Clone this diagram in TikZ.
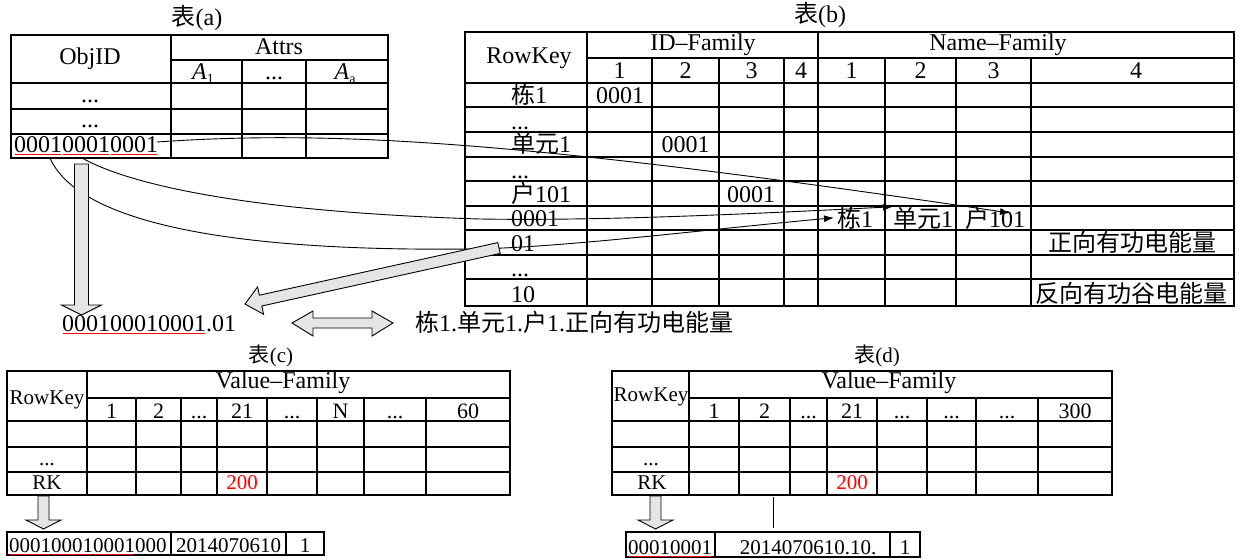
\documentclass[tikz,border=0pt]{standalone}
\usepackage{fontspec}
\setmainfont{Liberation Serif}
\newfontfamily\cjk{Noto Sans CJK SC}
\usetikzlibrary{arrows.meta}
\newcommand\redul[1]{\sbox0{#1}\rlap{\hspace{1pt}\color{red}\rule[-2.5pt]{\dimexpr\wd0-2pt\relax}{1pt}}\usebox0}
\begin{document}
\begin{tikzpicture}[x=1pt,y=-1pt,
  grid/.style={line width=1.1pt},
  T/.style={font=\fontsize{24}{28}\selectfont, inner sep=0pt, anchor=base},
  S/.style={font=\fontsize{21}{25}\selectfont, inner sep=0pt, anchor=base},
  H/.style={font=\fontsize{22}{26}\selectfont, inner sep=0pt, anchor=base},
  conn/.style={line width=0.9pt},
  tip/.style={-{Latex[length=10pt,width=7pt]}},
  garrow/.style={fill=black!10, draw=black, line width=0.9pt, line join=miter}]
\useasboundingbox (0,0) rectangle (1239,559);
\fill[white] (0,0) rectangle (1239,559);

% ---------- table (a)
\draw[grid] (11,35) rectangle (388,158);
\draw[grid] (171,35) -- (171,158);
\draw[grid] (171,60) -- (388,60);
\draw[grid] (242,60) -- (242,158);
\draw[grid] (306,60) -- (306,158);
\foreach \y in {83,109,134} \draw[grid] (11,\y) -- (388,\y);
\node[T,anchor=center] (aT) at (197,18) {{\cjk 表}(a)};
\node[T,anchor=center] (aObj) at (90,59) {ObjID};
\node[T,anchor=center] (aAttrs) at (279,47) {Attrs};
\node[T] (aA1) at (203,80) {\textit{A}\raisebox{-4pt}{\fontsize{14}{14}\selectfont 1}};
\node[T] (aDots) at (274,80) {...};
\node[T] (aAa) at (345,80) {\textit{A}\raisebox{-4pt}{\fontsize{14}{14}\selectfont a}};
\node[T] (aR1) at (90,103) {...};
\node[T] (aR2) at (90,128) {...};
\node[T,anchor=base west] (aOid) at (14,152) {\redul{0001}\redul{0001}\redul{0001}};

% ---------- table (b)
\draw[grid] (465,32) rectangle (1234,306);
\draw[grid] (587,32) -- (587,306);
\draw[grid] (818,32) -- (818,306);
\draw[grid] (587,58) -- (1234,58);
\foreach \x in {652,719,784,885,956,1031} \draw[grid] (\x,58) -- (\x,306);
\foreach \y in {83,107,132,157,181,206,230,255,279} \draw[grid] (465,\y) -- (1234,\y);
\node[T,anchor=center] (bT) at (820,15) {{\cjk 表}(b)};
\node[T,anchor=center] (bRK) at (529,58) {RowKey};
\node[T,anchor=center] (bID) at (703,45) {ID–Family};
\node[T,anchor=center] (bNF) at (998,45) {Name–Family};
\node[T] (bi1) at (619.5,79) {1};
\node[T] (bi2) at (685.5,79) {2};
\node[T] (bi3) at (751.5,79) {3};
\node[T] (bi4) at (801,79) {4};
\node[T] (bn1) at (851.5,79) {1};
\node[T] (bn2) at (920.5,79) {2};
\node[T] (bn3) at (993.5,79) {3};
\node[T] (bn4) at (1136,79) {4};
\node[T,anchor=base west] (br1) at (511,104) {{\cjk 栋}1};
\node[T,anchor=base west] (br2) at (511,129) {...};
\node[T,anchor=base west] (br3) at (511,153) {{\cjk 单元}1};
\node[T,anchor=base west] (br4) at (511,178) {...};
\node[T,anchor=base west] (br5) at (511,202) {{\cjk 户}101};
\node[T,anchor=base west] (br6) at (511,226) {0001};
\node[T,anchor=base west] (br7) at (511,251) {01};
\node[T,anchor=base west] (br8) at (511,276) {...};
\node[T,anchor=base west] (br9) at (511,302) {10};
\node[T] (bv1) at (620,104) {0001};
\node[T] (bv2) at (685.5,153) {0001};
\node[T] (bv3) at (751,202) {0001};
\node[T,anchor=base west] (n1) at (837,227) {{\cjk 栋}1};
\node[T,anchor=base west] (n2) at (893,227) {{\cjk 单元}1};
\node[T,anchor=base west] (n3) at (965,227) {{\cjk 户}101};
\node[T] (bz1) at (1132,251) {\cjk 正向有功电能量};
\node[T] (bz2) at (1131,302) {\cjk 反向有功谷电能量};

% ---------- middle texts
\node[T,anchor=base west] (key) at (62,331) {\redul{000100010001}.01};
\node[T,anchor=base west] (name) at (415,331) {{\cjk 栋}1.{\cjk 单元}1.{\cjk 户}1.{\cjk 正向有功电能量}};

% ---------- table (c)
\draw[grid] (7,371) rectangle (510,495);
\draw[grid] (87,371) -- (87,495);
\draw[grid] (87,398) -- (510,398);
\foreach \x in {136,181,217,267,317,364,426} \draw[grid] (\x,398) -- (\x,495);
\foreach \y in {421,447,472} \draw[grid] (7,\y) -- (510,\y);
\node[S,anchor=center] (cT) at (271,356) {{\cjk 表}(c)};
\node[T,anchor=center] (cVF) at (283,383) {Value–Family};
\node[S,anchor=center] (cRK) at (47,400) {RowKey};
\node[H] (c1) at (111.5,418) {1};
\node[H] (c2) at (158.5,418) {2};
\node[H] (c3) at (199,418) {...};
\node[H] (c4) at (242,418) {21};
\node[H] (c5) at (292,418) {...};
\node[H] (c6) at (340.5,418) {N};
\node[H] (c7) at (395,418) {...};
\node[H] (c8) at (468,418) {60};
\node[S] (cd) at (47,465) {...};
\node[S] (crk) at (47,489) {RK};
\node[S,text=red] (cv) at (242,489) {200};
\draw[grid] (7,532) rectangle (324,555);
\draw[grid] (171,532) -- (171,555);
\draw[grid] (286,532) -- (286,555);
\node[S,anchor=base west] (ck) at (9,552) {\redul{0001}\redul{0001}\redul{0001}000};
\node[S] (cdate) at (228.5,552) {2014070610};
\node[S] (cone) at (305,552) {1};

% ---------- table (d)
\draw[grid] (612,371) rectangle (1112,495);
\draw[grid] (689,371) -- (689,495);
\draw[grid] (689,398) -- (1112,398);
\foreach \x in {739,790,827,877,927,976,1038} \draw[grid] (\x,398) -- (\x,495);
\foreach \y in {421,447,472} \draw[grid] (612,\y) -- (1112,\y);
\node[S,anchor=center] (dT) at (877,356) {{\cjk 表}(d)};
\node[T,anchor=center] (dVF) at (889,383) {Value–Family};
\node[S,anchor=center] (dRK) at (651,397) {RowKey};
\node[H] (d1) at (714,418) {1};
\node[H] (d2) at (764.5,418) {2};
\node[H] (d3) at (808.5,418) {...};
\node[H] (d4) at (852,418) {21};
\node[H] (d5) at (902,418) {...};
\node[H] (d6) at (951.5,418) {...};
\node[H] (d7) at (1007,418) {...};
\node[H] (d8) at (1075,418) {300};
\node[S] (dd) at (651,465) {...};
\node[S] (drk) at (652,489) {RK};
\node[S,text=red] (dv) at (852,489) {200};
\draw[grid] (626,532) rectangle (920,557);
\draw[grid] (715,532) -- (715,557);
\draw[grid] (890,532) -- (890,557);
\node[S] (dk) at (670,554) {\redul{0001}\redul{0001}};
\node[S] (ddate) at (808,554) {2014070610.10.};
\node[S] (done) at (905,554) {1};
\coordinate (dl1) at (773,497);
\coordinate (dl2) at (773,528);
\draw[line width=0.9pt] (dl1) -- (dl2);

% ---------- connectors
\coordinate (g1) at (50,158);
\coordinate (g2) at (82,158);
\coordinate (g3) at (157,142);
\coordinate (t3) at (1010,213);
\draw[conn,tip] (g3) .. controls (330,130) and (520,140) .. (t3);
\draw[conn,tip] (g1) .. controls (75,215) and (200,252) .. (470,249) .. controls (560,248) and (700,230) .. ([xshift=-3pt]n1.west);
\draw[conn,tip] (g2) .. controls (130,185) and (250,212) .. (480,219) .. controls (600,221) and (750,214) .. (n2.north west);

% ---------- gray block arrows
\draw[garrow] (74.5,164) -- (88.5,164) -- (88.5,305) -- (101.5,305) -- (81.5,315) -- (61.5,305) -- (74.5,305) -- cycle;
\draw[garrow] (497.8,242.6) -- (500.2,253.4) -- (261.8,306.0) -- (263.6,314.3) -- (245,304) -- (257.6,286.9) -- (259.4,295.2) -- cycle;
\draw[garrow] (292,323) -- (313,311) -- (313,318) -- (372,318) -- (372,311) -- (393,323) -- (372,336) -- (372,328) -- (313,328) -- (313,336) -- cycle;
\draw[garrow] (38,496) -- (49,496) -- (49,520) -- (61,520) -- (43.5,529) -- (26,520) -- (38,520) -- cycle;
\draw[garrow] (650,496) -- (661,496) -- (661,520) -- (673,520) -- (655.5,529) -- (638,520) -- (650,520) -- cycle;
\end{tikzpicture}
\end{document}
